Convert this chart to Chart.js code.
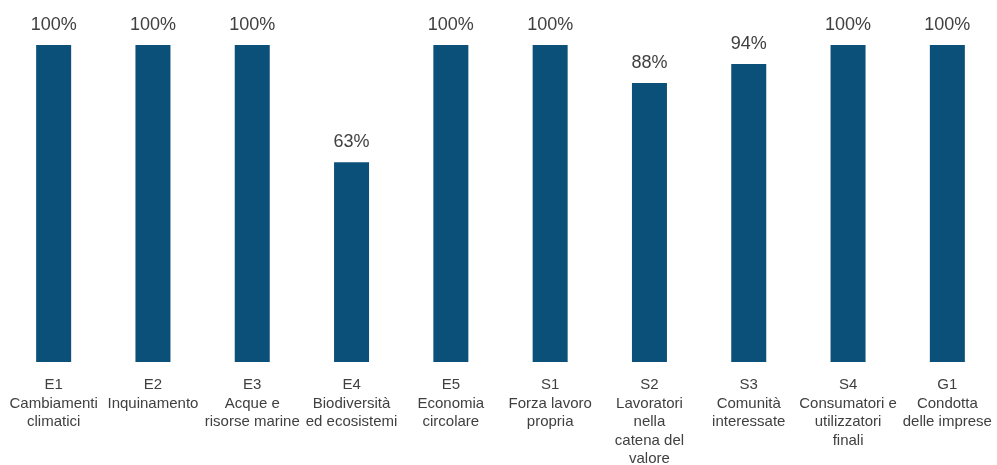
<!DOCTYPE html>
<html>
<head>
<meta charset="utf-8">
<script src="https://cdn.jsdelivr.net/npm/chart.js@4/dist/chart.umd.min.js"></script>
<style>
  html, body { margin: 0; padding: 0; background: #fff; }
  #wrap { width: 997px; height: 465px; }
</style>
</head>
<body>
<div id="wrap"><canvas id="grafico"></canvas></div>
<script>
const categorie = [
    ['E1', 'Cambiamenti', 'climatici'],
    ['E2', 'Inquinamento'],
    ['E3', 'Acque e', 'risorse marine'],
    ['E4', 'Biodiversità', 'ed ecosistemi'],
    ['E5', 'Economia', 'circolare'],
    ['S1', 'Forza lavoro', 'propria'],
    ['S2', 'Lavoratori', 'nella', 'catena del', 'valore'],
    ['S3', 'Comunità', 'interessate'],
    ['S4', 'Consumatori e', 'utilizzatori', 'finali'],
    ['G1', 'Condotta', 'delle imprese']
];
const percentuali = [100, 100, 100, 63, 100, 100, 88, 94, 100, 100];

const coloreBarre = '#0b5078';
const coloreTesto = '#404040';

// etichette sopra le barre
const etichettePlugin = {
    id: 'etichette',
    afterDatasetsDraw(chart) {
        const ctx = chart.ctx;
        const meta = chart.getDatasetMeta(0);
        ctx.save();
        ctx.font = '18px "Liberation Sans", Arial, sans-serif';
        ctx.fillStyle = coloreTesto;
        ctx.textAlign = 'center';
        ctx.textBaseline = 'alphabetic';
        meta.data.forEach(function(bar, i) {
            ctx.fillText(percentuali[i] + '%', bar.x, bar.y - 15);
        });
        ctx.restore();
    }
};

const ctx = document.getElementById('grafico').getContext('2d');

new Chart(ctx, {
    type: 'bar',
    data: {
        labels: categorie,
        datasets: [{
            data: percentuali,
            backgroundColor: coloreBarre,
            borderWidth: 0,
            barPercentage: 0.5,
            categoryPercentage: 0.705
        }]
    },
    options: {
        responsive: true,
        maintainAspectRatio: false,
        animation: false,
        layout: {
            padding: { top: 45, left: 4, right: 0, bottom: 0 }
        },
        plugins: {
            legend: { display: false },
            tooltip: { enabled: false }
        },
        scales: {
            x: {
                grid: { display: false, drawTicks: false },
                border: { display: false },
                afterFit: function(scale) {
                    scale.paddingLeft = 0;
                    scale.paddingRight = 0;
                    scale.height = 103;
                },
                ticks: {
                    color: coloreTesto,
                    autoSkip: false,
                    maxRotation: 0,
                    padding: 14,
                    font: { family: '"Liberation Sans", Arial, sans-serif', size: 15, lineHeight: 1.23 }
                }
            },
            y: {
                display: false,
                min: 0,
                max: 100
            }
        }
    },
    plugins: [etichettePlugin]
});
</script>
</body>
</html>
